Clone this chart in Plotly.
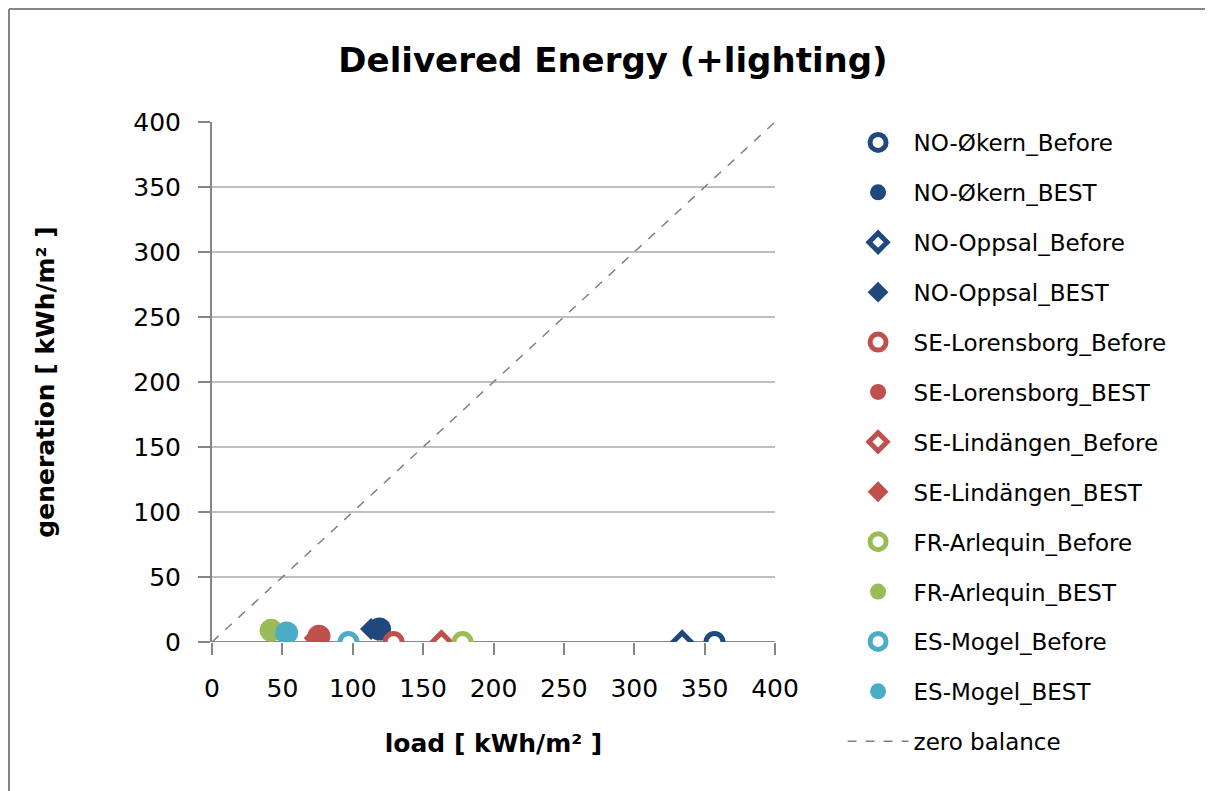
import plotly.graph_objects as go

series_names = ["NO-Økern_Before", "NO-Økern_BEST", "NO-Oppsal_Before", "NO-Oppsal_BEST",
                "SE-Lorensborg_Before", "SE-Lorensborg_BEST", "SE-Lindängen_Before", "SE-Lindängen_BEST",
                "FR-Arlequin_Before", "FR-Arlequin_BEST", "ES-Mogel_Before", "ES-Mogel_BEST"]
load_values = [357, 119, 334, 113, 129, 76, 163, 73, 178, 42, 97, 53]
generation_values = [0, 10, 0, 10, 0, 4.5, 0, 3, 0, 9, 0, 7]
series_colors = ["#1F497D", "#1F497D", "#1F497D", "#1F497D",
                 "#C0504D", "#C0504D", "#C0504D", "#C0504D",
                 "#9BBB59", "#9BBB59", "#4BACC6", "#4BACC6"]
series_symbols = ["circle", "circle", "diamond", "diamond",
                  "circle", "circle", "diamond", "diamond",
                  "circle", "circle", "circle", "circle"]
series_filled = [False, True] * 6
balance_x = [0, 400]
balance_y = [0, 400]
tick_values = [0, 50, 100, 150, 200, 250, 300, 350, 400]

FONT = "'DejaVu Sans', sans-serif"

# the page body has an ~8px margin; the figure is sized so it fits the window
L, T, PW, PH = 204, 114, 563, 520
W, H = 1205, 783

fig = go.Figure()
for i, name in enumerate(series_names):
    filled = series_filled[i]
    sym = series_symbols[i]
    if sym == "diamond":
        size = 17 if filled else 14
    else:
        size = 23 if filled else 17
    fig.add_trace(go.Scatter(
        x=[load_values[i]], y=[generation_values[i]], name=name, mode="markers",
        legendgroup=name,
        marker=dict(symbol=sym, size=size,
                    color=series_colors[i] if filled else "white",
                    line=dict(color=series_colors[i], width=0 if filled else 5)),
    ))

fig.add_trace(go.Scatter(x=balance_x, y=balance_y, name="zero balance", mode="lines",
                         legendgroup="zero",
                         line=dict(color="#808080", width=1.5, dash="dash")))

left_x = (1 - L) / PW
top_y = 1 + (T - 1) / PH
bottom_y = -(H - T - PH) / PH
right_x = (W - L) / PW

fig.update_layout(
    width=W, height=H,
    paper_bgcolor="white", plot_bgcolor="white",
    margin=dict(l=L, r=W - L - PW, t=T, b=H - T - PH, autoexpand=False),
    font=dict(family=FONT, size=25, color="black"),
    title=dict(text="<b>Delivered Energy (+lighting)</b>", x=605 / W, xanchor="center",
               y=1 - 52 / H, yanchor="middle", font=dict(size=34, family=FONT)),
    showlegend=True,
    legend=dict(x=1.12, y=1 - 113 / H, yref="container", xanchor="left", yanchor="top",
                font=dict(size=23, family=FONT), tracegroupgap=17, itemwidth=61,
                maxheight=775, bgcolor="rgba(0,0,0,0)"),
    xaxis=dict(range=[0, 400], tickvals=tick_values,
               showgrid=False, zeroline=False, showline=False,
               ticks="outside", ticklen=12, tickcolor="#868686", tickwidth=2,
               ticklabelstandoff=12,
               title=dict(text="<b>load [ kWh/m² ]</b>", font=dict(size=25), standoff=32)),
    yaxis=dict(range=[0, 400], tickvals=tick_values,
               showgrid=True, gridcolor="#BFBFBF", gridwidth=1.5,
               zeroline=False, showline=True, linecolor="#868686", linewidth=2,
               ticks="outside", ticklen=12, tickcolor="#868686", tickwidth=2,
               ticklabelstandoff=12,
               title=dict(text="<b>generation [ kWh/m² ]</b>", font=dict(size=25), standoff=72)),
    shapes=[
        dict(type="line", xref="paper", yref="y", x0=0, x1=1, y0=0, y1=0,
             line=dict(color="#868686", width=2), layer="below"),
        dict(type="line", xref="paper", yref="paper", x0=left_x, x1=left_x,
             y0=bottom_y, y1=top_y, line=dict(color="#868686", width=2)),
        dict(type="line", xref="paper", yref="paper", x0=left_x, x1=right_x,
             y0=top_y, y1=top_y, line=dict(color="#868686", width=2)),
    ],
)

fig.write_html("out.html")
